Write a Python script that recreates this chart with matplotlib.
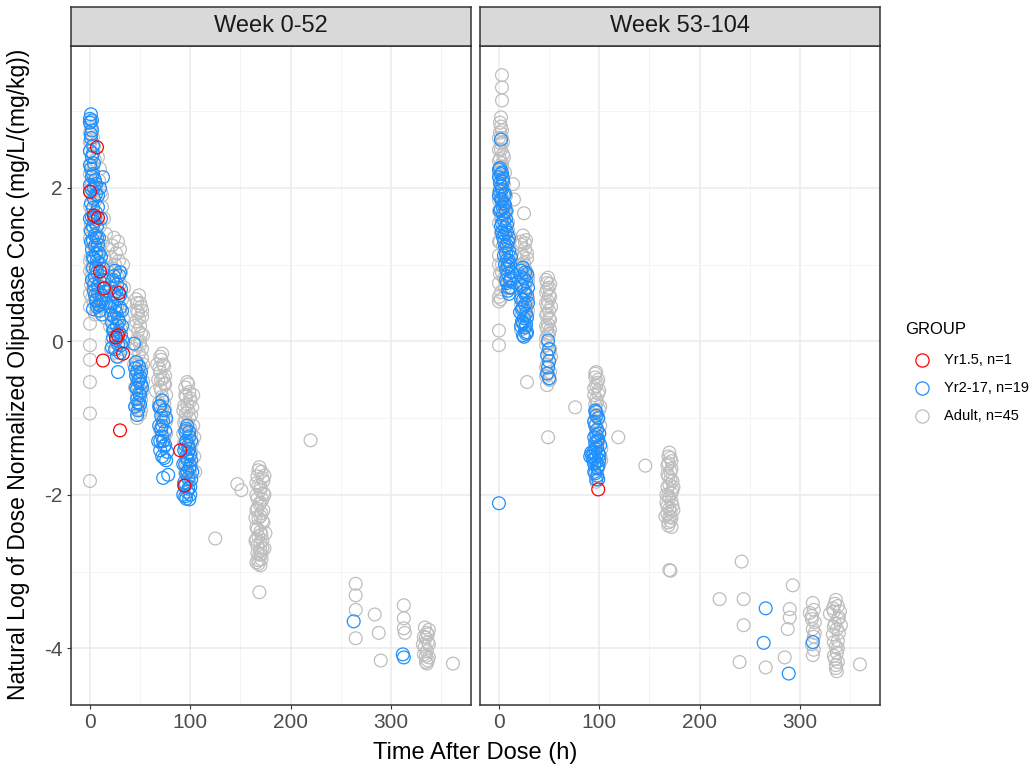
import numpy as np
import matplotlib.pyplot as plt
from matplotlib.ticker import MultipleLocator

plt.rcParams['font.family'] = ['Liberation Sans', 'DejaVu Sans']
plt.rcParams['axes.unicode_minus'] = False

# Panels and groups
panels = ['Week 0-52', 'Week 53-104']
groups = ['Yr1.5, n=1', 'Yr2-17, n=19', 'Adult, n=45']
colors = {'Yr1.5, n=1': '#FF0000', 'Yr2-17, n=19': '#1E90FF', 'Adult, n=45': '#BEBEBE'}

# (time after dose h, log dose-normalized conc)
w1_adult = [
    (1, 2.86), (2, 2.78), (0, 2.72), (3, 2.66), (1, 2.6), (4, 2.54), (0, 2.48), (2, 2.42), (5, 2.36),
    (1, 2.3), (3, 2.24), (0, 2.18), (4, 2.12), (2, 2.06), (6, 2.0), (1, 1.94), (3, 1.88), (5, 1.82),
    (0, 1.76), (2, 1.7), (4, 1.64), (7, 1.58), (1, 1.52), (3, 1.46), (6, 1.4), (0, 1.34), (2, 1.28),
    (5, 1.22), (8, 1.16), (1, 1.1), (3, 1.04), (6, 0.98), (0, 0.92), (2, 0.86), (4, 0.8), (1, 0.74),
    (3, 0.68), (0, 0.62), (2, 0.56), (0, 0.45), (9, 2.1), (11, 1.95), (12, 1.75), (10, 1.5), (13, 1.3),
    (9, 1.2), (14, 1.1), (11, 0.95), (15, 0.85), (8, 0.75), (12, 0.6), (10, 0.5), (14, 0.42), (16, 0.7),
    (6, 0.55), (5, 0.35), (18, 0.9), (17, 0.5),
    (8, 2.4), (10, 2.25), (12, 1.9), (14, 1.6), (16, 1.4), (18, 1.2), (15, 1.05), (17, 0.95),
    (19, 0.8), (20, 0.6), (19, 0.45), (16, 0.3), (13, 0.5), (7, 0.4), (4, 0.5), (2, 0.95), (0, 1.05),
    (0, 1.45), (0, 2.0), (0, 2.6), (1, 2.8), (33, 1.0), (34, 0.7), (33, 0.3), (32, -0.1), (35, 0.5),
    (20, 0.2), (21, -0.1),
    (0, 0.23), (0, -0.05), (0, -0.24), (0, -0.53), (0, -0.94), (0, -1.82),
    (24, 1.35), (28, 1.3), (22, 1.25), (30, 1.2), (26, 1.15), (21, 1.1), (29, 1.05), (25, 1.0),
    (23, 0.95), (31, 0.9), (27, 0.85), (22, 0.8), (30, 0.75), (25, 0.7), (28, 0.65), (21, 0.6),
    (32, 0.55), (24, 0.5), (27, 0.45), (30, 0.4), (22, 0.35), (26, 0.3), (29, 0.25), (23, 0.2),
    (31, 0.15), (25, 0.1), (28, 0.05), (22, 0.0), (30, -0.05), (26, -0.1), (24, -0.15), (29, -0.2),
    (49, 0.6), (47, 0.5), (51, 0.45), (48, 0.38), (52, 0.32), (46, 0.26), (50, 0.2), (48, 0.14),
    (53, 0.08), (47, 0.02), (50, -0.04), (45, -0.1), (49, -0.16), (52, -0.22), (47, -0.28),
    (51, -0.34), (46, -0.4), (49, -0.46), (53, -0.52), (48, -0.58), (50, -0.64), (47, -0.7),
    (51, -0.76), (49, -0.82), (48, -0.88), (50, -0.95), (47, -1.0),
    (46, 0.55), (50, 0.5), (52, 0.4), (45, 0.2), (49, 0.3), (51, 0.1), (46, -0.05), (53, -0.3),
    (45, -0.6), (52, -0.65), (46, -0.85), (51, -0.9), (48, -0.3), (50, 0.0), (47, -0.5), (52, -0.1),
    (44, -0.3), (47, 0.4),
    (72, -0.16), (71, -0.24), (74, -0.32), (70, -0.4), (73, -0.48), (75, -0.56), (71, -0.64),
    (72, -0.72), (74, -0.8), (70, -0.88), (73, -0.96), (76, -1.04), (71, -1.12), (68, -0.5),
    (66, -0.65), (74, -1.25),
    (70, -0.2), (73, -0.3), (75, -0.45), (70, -0.6), (76, -0.7), (69, -0.8), (75, -0.9), (72, -1.0),
    (70, -1.15), (76, -1.2), (73, -1.3), (69, -0.35), (74, -0.55), (71, -0.5), (72, -0.9), (67, -0.3),
    (97, -0.53), (95, -0.6), (99, -0.66), (96, -0.72), (100, -0.78), (94, -0.84), (98, -0.9),
    (101, -0.96), (95, -1.02), (97, -1.08), (100, -1.14), (96, -1.2), (99, -1.26), (94, -1.32),
    (98, -1.38), (101, -1.44), (96, -1.5), (99, -1.56), (95, -1.62), (97, -1.68), (100, -1.74),
    (98, -1.8), (96, -1.86), (103, -1.1), (104, -1.5),
    (98, -0.56), (95, -0.7), (100, -0.74), (97, -0.82), (102, -0.86), (96, -0.94), (99, -1.0),
    (94, -1.06), (101, -1.2), (97, -1.3), (102, -1.32), (95, -1.4), (100, -1.48), (97, -1.6),
    (101, -1.64), (95, -1.72), (99, -1.82), (103, -0.7), (104, -1.25), (93, -1.2), (93, -0.9),
    (105, -1.7),
    (147, -1.86), (151, -1.94), (125, -2.57), (220, -1.29),
    (169, -1.64), (171, -1.7), (167, -1.76), (173, -1.82), (168, -1.88), (170, -1.94), (166, -2.0),
    (172, -2.06), (169, -2.12), (167, -2.18), (171, -2.24), (168, -2.3), (173, -2.36), (166, -2.42),
    (170, -2.48), (168, -2.54), (172, -2.6), (167, -2.66), (170, -2.72), (169, -2.78), (171, -2.84),
    (168, -2.9), (174, -1.75), (165, -2.3), (175, -2.5), (169, -3.27),
    (168, -1.68), (172, -1.78), (166, -1.85), (170, -1.9), (173, -1.98), (167, -2.05), (170, -2.1),
    (173, -2.2), (166, -2.2), (170, -2.28), (172, -2.34), (167, -2.45), (171, -2.52), (166, -2.58),
    (170, -2.62), (172, -2.7), (167, -2.76), (171, -2.78), (168, -2.85), (170, -2.92), (174, -2.0),
    (165, -2.6), (174, -2.7), (166, -2.88),
    (265, -3.16), (265, -3.31), (265, -3.5), (265, -3.87), (284, -3.56), (288, -3.8), (290, -4.16),
    (313, -3.44), (313, -3.61), (313, -3.74), (314, -3.8),
    (334, -3.73), (336, -3.8), (335, -3.86), (337, -3.92), (334, -3.98), (336, -4.04), (335, -4.1),
    (337, -4.16), (336, -4.2), (338, -3.76), (362, -4.2),
    (333, -3.85), (338, -3.95), (333, -4.08), (338, -4.12), (335, -4.18), (337, -3.82), (332, -3.95),
]
w1_child = [
    (1, 2.96), (0, 2.85), (2, 2.75), (1, 2.65), (3, 2.55), (0, 2.48), (2, 2.4), (4, 2.32), (1, 2.25),
    (3, 2.18), (5, 2.1), (0, 2.04), (2, 1.98), (6, 1.92), (4, 1.86), (1, 1.8), (3, 1.74), (8, 1.9),
    (10, 2.0), (6, 1.68), (2, 1.62), (4, 1.56), (7, 1.5), (1, 1.44), (5, 1.38), (3, 1.32), (8, 1.26),
    (2, 1.2), (6, 1.14), (4, 1.08), (9, 1.02), (3, 0.96), (7, 0.9), (5, 0.84), (10, 0.78), (8, 0.72),
    (4, 0.66), (12, 0.6), (6, 0.54), (9, 0.48), (3, 0.42), (11, 1.1), (13, 0.95), (9, 1.35),
    (11, 1.6), (13, 2.14), (6, 0.53), (9, 0.47),
    (0, 2.9), (2, 2.88), (1, 2.7), (3, 2.45), (0, 2.3), (2, 2.15), (4, 2.0), (6, 2.05), (8, 1.75),
    (5, 1.62), (3, 1.5), (7, 1.35), (5, 1.25), (9, 1.15), (7, 1.05), (11, 0.85), (6, 0.95), (2, 0.8),
    (4, 0.74), (8, 0.62), (5, 0.6), (11, 0.52), (7, 0.45), (10, 0.4), (13, 0.55), (15, 0.65),
    (14, 0.8), (12, 0.35), (16, 0.5), (3, 1.1), (1, 1.3), (0, 1.6),
    (25, 0.92), (29, 0.86), (23, 0.8), (27, 0.74), (31, 0.68), (24, 0.62), (28, 0.56), (22, 0.5),
    (30, 0.44), (26, 0.38), (24, 0.32), (29, 0.26), (27, 0.2), (23, 0.14), (31, 0.08), (26, 0.02),
    (28, -0.04), (25, -0.1), (30, -0.15), (22, -0.08), (28, -0.4), (44, -0.03),
    (21, 0.7), (24, 0.85), (30, 0.9), (32, 0.4), (22, 0.25), (33, 0.0), (25, 0.45), (28, 0.3),
    (23, 0.05), (27, -0.2), (24, 0.15), (30, 0.6), (20, 0.45), (26, 0.65), (31, -0.05), (29, 0.12),
    (21, 0.35), (32, 0.2),
    (46, -0.27), (49, -0.33), (47, -0.4), (50, -0.46), (48, -0.52), (46, -0.6), (49, -0.68),
    (47, -0.75), (50, -0.82), (48, -0.9), (47, -0.96),
    (45, -0.35), (51, -0.55), (46, -0.45), (50, -0.7), (48, -0.8), (52, -0.6), (45, -0.85),
    (51, -0.4), (49, -0.5), (47, -0.62),
    (72, -0.77), (70, -0.84), (74, -0.9), (71, -0.97), (73, -1.04), (69, -1.1), (75, -1.17),
    (72, -1.24), (70, -1.3), (74, -1.37), (77, -1.44), (72, -1.5), (73, -1.78), (78, -1.74),
    (69, -0.85), (76, -1.0), (71, -1.15), (73, -1.3), (70, -1.42), (75, -1.35), (74, -1.52),
    (68, -1.3), (76, -1.55), (72, -1.1),
    (97, -1.1), (95, -1.17), (99, -1.24), (96, -1.3), (98, -1.36), (94, -1.42), (100, -1.48),
    (97, -1.54), (95, -1.6), (99, -1.66), (96, -1.72), (98, -1.78), (94, -1.84), (100, -1.9),
    (97, -1.96), (95, -2.02), (99, -2.06), (93, -2.0), (101, -1.55),
    (96, -1.14), (99, -1.18), (101, -1.3), (95, -1.35), (98, -1.45), (96, -1.5), (100, -1.62),
    (97, -1.7), (101, -1.8), (95, -1.88), (98, -1.92), (96, -2.05), (100, -2.0), (102, -1.7),
    (93, -1.6), (99, -1.4),
    (263, -3.65), (313, -4.12), (312, -4.08),
]
w1_infant = [
    (7, 2.53), (0, 1.95), (4, 1.64), (8, 1.61), (10, 0.91), (14, 0.69), (29, 0.63), (26, 0.05),
    (28, 0.08), (33, -0.16), (13, -0.25), (30, -1.16), (90, -1.42), (94, -1.88),
]

w2_adult = [
    (3, 3.47), (3, 3.31), (3, 3.14), (2, 2.92), (2, 2.8), (1, 2.72), (3, 2.65), (2, 2.58), (0, 2.5),
    (4, 2.44), (1, 2.38), (3, 2.32), (2, 2.26), (0, 2.2), (4, 2.14), (1, 2.08), (3, 2.02), (5, 1.96),
    (2, 1.9), (0, 1.84), (4, 1.78), (1, 1.72), (6, 1.66), (3, 1.6), (0, 1.54), (5, 1.48), (2, 1.42),
    (7, 1.36), (1, 1.3), (4, 1.24), (8, 1.18), (0, 1.12), (6, 1.06), (3, 1.0), (9, 0.94), (1, 0.88),
    (5, 0.82), (0, 0.76), (10, 0.7), (2, 0.64), (0, 0.58), (11, 1.1), (12, 1.35), (9, 1.55),
    (7, 1.75), (14, 2.05), (15, 1.85), (0, 0.52), (0, 0.14), (0, -0.05),
    (1, 2.85), (3, 2.75), (0, 2.65), (4, 2.6), (2, 2.5), (5, 2.4), (0, 2.35), (3, 2.28), (6, 2.2),
    (1, 2.15), (5, 2.05), (0, 1.95), (7, 1.9), (3, 1.8), (8, 1.7), (2, 1.6), (9, 1.45), (4, 1.4),
    (10, 1.3), (6, 1.2), (11, 1.0), (3, 0.9), (8, 0.85), (0, 1.0), (0, 1.3), (0, 1.7), (12, 0.9),
    (13, 1.15), (6, 0.7), (2, 0.55),
    (25, 1.67), (24, 1.38), (27, 1.32), (22, 1.26), (26, 1.2), (23, 1.14), (28, 1.08), (25, 1.02),
    (22, 0.96), (27, 0.9), (24, 0.84), (29, 0.78), (23, 0.72), (26, 0.66), (28, 0.6), (24, 0.54),
    (22, 0.48), (27, 0.42), (25, 0.36), (28, 0.3), (23, 0.24), (26, 0.18), (28, -0.53),
    (22, 1.3), (26, 1.28), (28, 1.15), (24, 1.1), (21, 1.0), (26, 0.95), (29, 0.85), (22, 0.7),
    (25, 0.75), (29, 0.55), (22, 0.6), (27, 0.5), (23, 0.35), (29, 0.4), (24, 0.25), (27, 0.2),
    (22, 0.15), (28, 0.1),
    (49, 0.83), (48, 0.76), (50, 0.7), (47, 0.64), (51, 0.58), (49, 0.52), (48, 0.46), (50, 0.4),
    (47, 0.34), (51, 0.28), (49, 0.22), (48, 0.16), (50, 0.1), (47, 0.04), (49, -0.02), (51, -0.1),
    (48, -0.18), (50, -0.26), (47, -0.34), (49, -0.42), (51, -0.5), (48, -0.57), (49, -1.25),
    (47, 0.8), (51, 0.75), (48, 0.68), (50, 0.6), (47, 0.5), (52, 0.45), (48, 0.36), (50, 0.3),
    (47, 0.2), (51, 0.15), (49, 0.08), (47, -0.05), (50, -0.15), (52, -0.2), (48, -0.3), (51, -0.4),
    (47, -0.45), (50, -0.5),
    (76, -0.86),
    (97, -0.4), (96, -0.47), (98, -0.54), (95, -0.61), (99, -0.68), (97, -0.75), (96, -0.82),
    (100, -0.89), (98, -0.96), (95, -1.03), (101, -1.1), (97, -1.17), (99, -1.3), (96, -1.45),
    (100, -1.6), (98, -1.75), (97, -1.83), (102, -1.4),
    (96, -0.42), (99, -0.5), (97, -0.58), (100, -0.64), (95, -0.7), (98, -0.8), (101, -0.85),
    (96, -0.92), (99, -1.0), (97, -1.08), (100, -1.2), (98, -1.25), (96, -1.35), (101, -1.5),
    (99, -1.65), (102, -1.55),
    (119, -1.25), (146, -1.62),
    (170, -1.45), (171, -1.52), (169, -1.59), (172, -1.66), (168, -1.73), (171, -1.8), (170, -1.87),
    (173, -1.94), (169, -2.01), (172, -2.08), (168, -2.15), (171, -2.22), (170, -2.29), (169, -2.36),
    (172, -2.42), (167, -2.0), (174, -2.2), (170, -2.98), (171, -2.99),
    (169, -1.5), (172, -1.56), (168, -1.62), (171, -1.7), (169, -1.76), (173, -1.82), (168, -1.9),
    (172, -1.98), (170, -2.04), (167, -2.1), (173, -2.14), (170, -2.18), (168, -2.25), (172, -2.3),
    (169, -2.4), (171, -2.34), (166, -2.28), (174, -1.9),
    (242, -2.87), (220, -3.36), (244, -3.36), (244, -3.7), (240, -4.18), (266, -4.25), (285, -4.12),
    (293, -3.18), (290, -3.49), (290, -3.6), (288, -3.75), (310, -3.54), (313, -3.41), (314, -3.5),
    (312, -3.58), (315, -3.66), (313, -3.75), (314, -3.85), (313, -4.09),
    (312, -3.62), (315, -3.8), (312, -3.95), (314, -4.02),
    (336, -3.37), (338, -3.45), (334, -3.52), (339, -3.6), (335, -3.68), (337, -3.75), (333, -3.82),
    (338, -3.9), (336, -3.98), (337, -4.06), (335, -4.14), (336, -4.22), (337, -4.3), (330, -3.55),
    (341, -3.7), (360, -4.21),
    (333, -3.48), (338, -3.62), (334, -3.72), (339, -3.8), (334, -3.92), (338, -4.0), (334, -4.1),
    (338, -4.18), (336, -4.26), (335, -3.42), (340, -3.52),
]
w2_child = [
    (2, 2.63), (1, 2.26), (3, 2.2), (0, 2.14), (4, 2.08), (2, 2.02), (1, 1.96), (5, 1.9), (3, 1.84),
    (6, 1.78), (2, 1.72), (4, 1.66), (7, 1.6), (3, 1.54), (6, 1.48), (8, 1.42), (4, 1.36), (9, 1.3),
    (6, 1.24), (10, 1.18), (5, 1.12), (8, 1.06), (11, 1.0), (7, 0.94), (9, 0.88), (12, 0.82),
    (8, 0.76), (10, 0.7), (9, 0.66), (0, -2.11),
    (0, 2.24), (2, 2.18), (4, 2.12), (1, 2.06), (3, 1.98), (6, 1.92), (0, 1.9), (2, 1.85), (5, 1.8),
    (4, 1.74), (1, 1.7), (7, 1.7), (5, 1.58), (2, 1.5), (8, 1.52), (6, 1.4), (3, 1.42), (10, 1.35),
    (5, 1.3), (8, 1.25), (7, 1.15), (12, 1.1), (10, 1.05), (6, 1.0), (9, 0.98), (13, 0.9), (11, 0.8),
    (7, 0.8), (10, 0.62), (12, 0.7),
    (24, 0.96), (26, 0.9), (22, 0.84), (27, 0.78), (23, 0.72), (25, 0.66), (28, 0.6), (24, 0.54),
    (26, 0.48), (23, 0.42), (27, 0.36), (25, 0.3), (24, 0.24), (26, 0.18), (28, 0.12), (25, 0.06),
    (22, 0.92), (28, 0.88), (25, 0.82), (21, 0.74), (29, 0.7), (26, 0.62), (22, 0.55), (29, 0.5),
    (24, 0.44), (21, 0.38), (28, 0.32), (23, 0.26), (27, 0.22), (22, 0.2), (27, 0.1), (24, 0.08),
    (49, 0.01), (50, -0.1), (48, -0.18), (50, -0.26), (49, -0.34), (48, -0.42), (50, -0.48),
    (96, -0.9), (97, -0.97), (95, -1.05), (98, -1.15), (97, -1.22), (99, -1.28), (96, -1.32),
    (98, -1.38), (94, -1.45), (91, -1.5), (97, -1.5), (100, -1.55), (95, -1.6), (98, -1.65),
    (96, -1.72), (99, -1.8),
    (97, -0.92), (99, -1.0), (96, -1.1), (100, -1.2), (95, -1.25), (98, -1.3), (101, -1.35),
    (96, -1.4), (99, -1.45), (93, -1.5), (95, -1.52), (100, -1.48), (97, -1.58), (99, -1.62),
    (95, -1.7), (98, -1.75), (97, -1.8), (92, -1.45), (94, -1.55),
    (266, -3.48), (264, -3.93), (289, -4.33), (313, -3.92),
]
w2_infant = [(99, -1.93)]

data = {
    'Week 0-52': {'Adult, n=45': w1_adult, 'Yr2-17, n=19': w1_child, 'Yr1.5, n=1': w1_infant},
    'Week 53-104': {'Adult, n=45': w2_adult, 'Yr2-17, n=19': w2_child, 'Yr1.5, n=1': w2_infant},
}

W, H = 1035, 772
fig = plt.figure(figsize=(W / 100, H / 100), dpi=100)

panel_left = [71, 480]
panel_w = 400
top, strip_top, bottom = 46, 7, 705

for i, name in enumerate(panels):
    x0 = panel_left[i]
    ax = fig.add_axes([x0 / W, 1 - bottom / H, panel_w / W, (bottom - top) / H])
    for g in ['Adult, n=45', 'Yr2-17, n=19', 'Yr1.5, n=1']:
        pts = np.array(data[name][g], dtype=float)
        ax.scatter(pts[:, 0], pts[:, 1], s=85, facecolors='none', edgecolors=colors[g],
                   linewidths=0.9, zorder=3)
    ax.set_xlim(-18.9, 380.0)
    ax.set_ylim(-4.74, 3.85)
    ax.xaxis.set_major_locator(MultipleLocator(100))
    ax.xaxis.set_minor_locator(MultipleLocator(50))
    ax.yaxis.set_major_locator(MultipleLocator(2))
    ax.yaxis.set_minor_locator(MultipleLocator(1))
    ax.grid(which='major', color='#EBEBEB', linewidth=1.1, zorder=0)
    ax.grid(which='minor', color='#F3F3F3', linewidth=0.6, zorder=0)
    ax.set_axisbelow(True)
    for sp in ax.spines.values():
        sp.set_color('#333333')
        sp.set_linewidth(1.1)
    ax.tick_params(which='major', length=3, width=0.8, color='#333333', labelsize=15,
                   labelcolor='#4D4D4D', pad=3)
    ax.tick_params(which='minor', length=0)
    if i > 0:
        ax.tick_params(axis='y', labelleft=False, length=0)

    # facet strip
    sax = fig.add_axes([x0 / W, 1 - top / H, panel_w / W, (top - strip_top) / H])
    sax.set_facecolor('#D9D9D9')
    sax.set_xticks([])
    sax.set_yticks([])
    for sp in sax.spines.values():
        sp.set_color('#333333')
        sp.set_linewidth(1.1)
    sax.text(0.5, 0.5, name, ha='center', va='center', fontsize=17, color='#1A1A1A',
             transform=sax.transAxes)

fig.text(475 / W, 1 - 753 / H, 'Time After Dose (h)', ha='center', va='center', fontsize=17)
fig.text(19 / W, 1 - 374 / H, 'Natural Log of Dose Normalized Olipudase Conc (mg/L/(mg/kg))',
         ha='center', va='center', rotation=90, fontsize=16.5)

# legend
fig.text(905 / W, 1 - 330 / H, 'GROUP', ha='left', va='center', fontsize=12)
for k, g in enumerate(groups):
    yy = 1 - (360 + 28 * k) / H
    fig.lines.append(plt.Line2D([922 / W], [yy], marker='o', markersize=9.5, markerfacecolor='none',
                                markeredgecolor=colors[g], markeredgewidth=0.9,
                                transform=fig.transFigure))
    fig.text(944 / W, yy, g, ha='left', va='center', fontsize=10.5)

fig.savefig('out.png', dpi=100)
